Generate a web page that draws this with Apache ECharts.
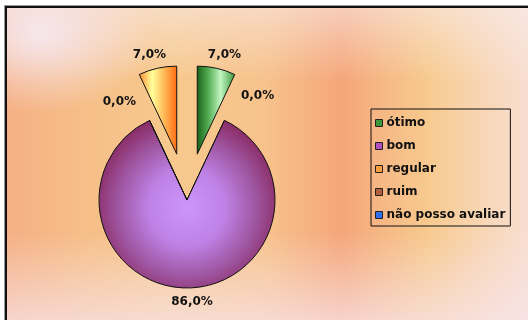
<!DOCTYPE html>
<html>
<head>
<meta charset="utf-8">
<script src="https://cdn.jsdelivr.net/npm/echarts@6/dist/echarts.min.js"></script>
<style>
  html, body { margin: 0; padding: 0; background: #ffffff; width: 528px; height: 320px; overflow: hidden; }
  #frame {
    position: absolute; left: 5px; top: 6px; width: 540px; height: 330px;
    border-left: 2px solid #111; border-top: 2px solid #111;
    box-shadow: -1px -1px 0 #9a9a9a;
    background:
      radial-gradient(ellipse 110px 80px at 35px 25px, rgba(246,232,240,0.95), rgba(246,232,240,0) 100%),
      linear-gradient(to bottom, rgba(249,236,238,0.55) 0%, rgba(249,236,238,0) 22%, rgba(249,236,238,0) 68%, rgba(248,228,236,0.85) 100%),
      linear-gradient(to right, #f5b084 0%, #f6be88 14%, #f7c98d 30%, #f7c28c 48%, #f5a67a 62%, #f6b985 70%, #f7ca8f 78%, #f8d8bc 90%, #f8e2dc 100%);
  }
  #chart { position: absolute; left: 0; top: 0; width: 528px; height: 320px; }
</style>
</head>
<body>
<div id="frame"></div>
<div id="chart"></div>
<script>
// Survey answers and their shares (%)
const categories = ['ótimo', 'bom', 'regular', 'ruim', 'não posso avaliar'];
const shares = [7.0, 86.0, 7.0, 0.0, 0.0];
const legendColors = ['#3c9a3c', '#b050c0', '#ffa040', '#b06040', '#3070f0'];
// Order in which the slices are laid around the circle, clockwise from the top
const sliceOrder = [0, 3, 1, 4, 2];
// Slices pulled out of the pie
const pulledOut = ['ótimo', 'regular'];
// Distance of each value label from the rim
const labelGap = { 'ótimo': 14, 'bom': 14, 'regular': 14, 'ruim': 27, 'não posso avaliar': 20 };

const fills = {
  'ótimo': { type: 'linear', x: 0, y: 0, x2: 1, y2: 0, colorStops: [
    { offset: 0, color: '#166016' }, { offset: 0.3, color: '#54ad54' },
    { offset: 0.62, color: '#c2f5c2' }, { offset: 1, color: '#3a983a' }] },
  'bom': { type: 'radial', x: 0.5, y: 0.52, r: 0.56, colorStops: [
    { offset: 0, color: '#cc95fa' }, { offset: 0.4, color: '#bf82e6' },
    { offset: 0.72, color: '#a058a4' }, { offset: 1, color: '#8a2c66' }] },
  'regular': { type: 'linear', x: 0, y: 0, x2: 1, y2: 0, colorStops: [
    { offset: 0, color: '#ff8a30' }, { offset: 0.35, color: '#ffff9a' },
    { offset: 0.7, color: '#ffb050' }, { offset: 1, color: '#ff6a10' }] },
  'ruim': '#b06040',
  'não posso avaliar': '#3070f0'
};

const fmt = v => v.toFixed(1).replace('.', ',') + '%';

const pieData = sliceOrder.map(i => {
  const name = categories[i];
  return {
    name: name,
    value: shares[i],
    selected: pulledOut.includes(name),
    itemStyle: { color: fills[name] },
    labelLine: { show: false, length: labelGap[name], length2: 0 }
  };
});

const chart = echarts.init(document.getElementById('chart'), null, { renderer: 'canvas' });
chart.setOption({
  animation: false,
  backgroundColor: 'transparent',
  legend: {
    orient: 'vertical',
    left: 371, top: 109,
    padding: [7, 5, 4, 4],
    itemGap: 9,
    itemWidth: 7, itemHeight: 7,
    icon: 'rect',
    borderColor: '#111', borderWidth: 1,
    selectedMode: false,
    textStyle: { fontFamily: 'DejaVu Sans', fontWeight: 'bold', fontSize: 12, color: '#111', lineHeight: 14, padding: [0, 0, 0, -1] },
    data: categories.map((c, i) => ({
      name: c,
      itemStyle: { color: legendColors[i], borderColor: '#222', borderWidth: 1 }
    }))
  },
  series: [{
    type: 'pie',
    center: [187, 200],
    radius: 88,
    startAngle: 90,
    clockwise: true,
    avoidLabelOverlap: false,
    selectedMode: 'multiple',
    selectedOffset: 47,
    emphasis: { disabled: true },
    itemStyle: { borderColor: '#111', borderWidth: 1 },
    label: {
      show: true,
      position: 'outside',
      formatter: p => fmt(p.value),
      fontFamily: 'DejaVu Sans', fontWeight: 'bold', fontSize: 12, color: '#111'
    },
    labelLayout: p => (pieData[p.dataIndex].value > 0
      ? { align: 'center', verticalAlign: 'middle' } : {}),
    data: pieData
  }]
});
</script>
</body>
</html>
